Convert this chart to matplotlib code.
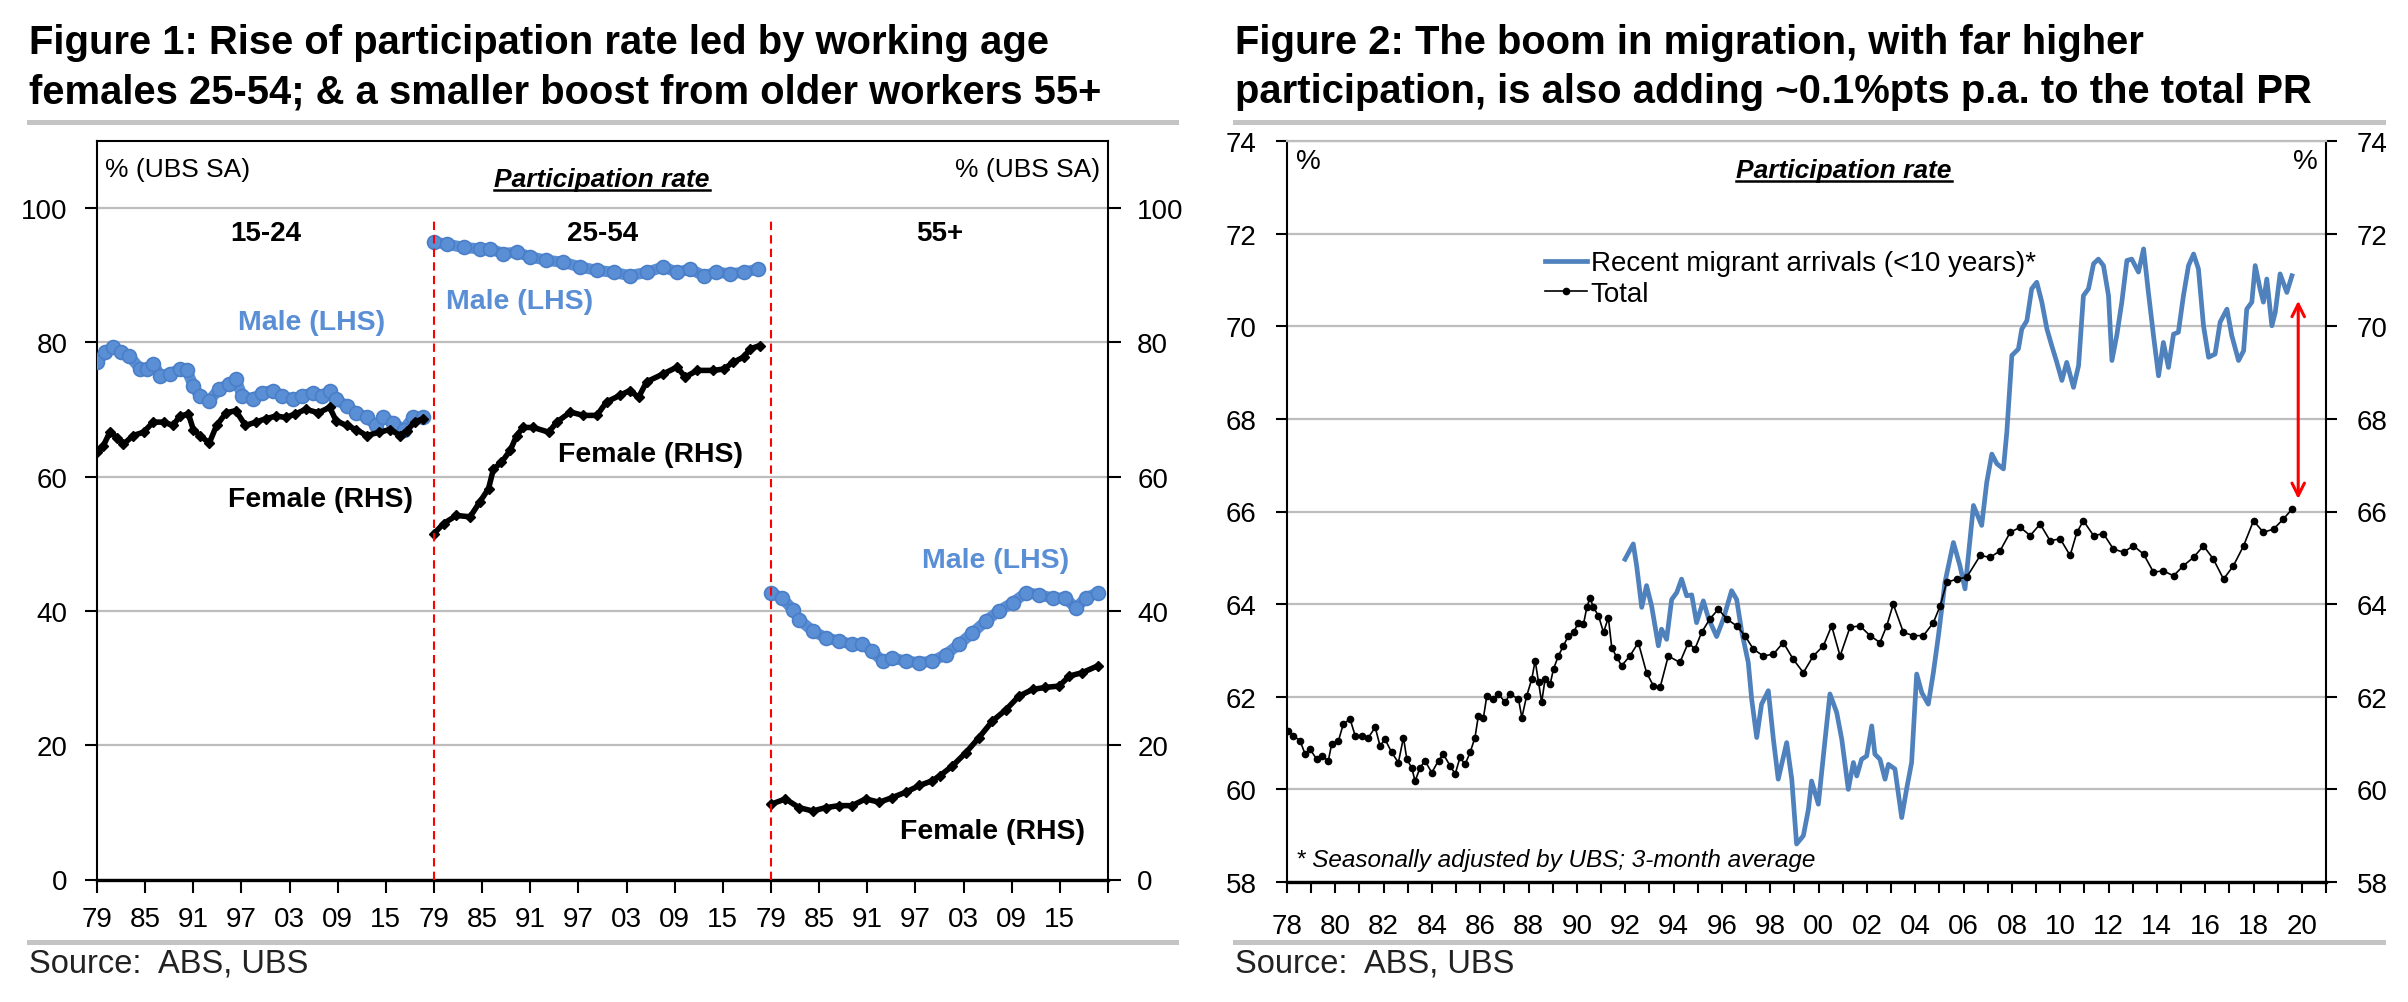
import matplotlib
matplotlib.use("Agg")
import matplotlib.pyplot as plt
from matplotlib.lines import Line2D
import numpy as np

NARROW = ['Liberation Sans Narrow', 'Liberation Sans', 'DejaVu Sans']
WIDE = ['Liberation Sans', 'DejaVu Sans']
plt.rcParams['font.family'] = NARROW

# ---------------- Figure 1 data (year, value) per age group ----------------
seg_labels = ['15-24', '25-54', '55+']
seg_tick_labels = ['79', '85', '91', '97', '03', '09', '15']

m1524_yr = [1979.0, 1980.0, 1981.0, 1982.0, 1983.0, 1984.4, 1985.2, 1986.0, 1986.9, 1988.1, 1989.3,
            1990.2, 1991.0, 1991.8, 1993.0, 1994.2, 1995.5, 1996.3, 1997.1, 1998.4, 1999.6, 2000.9,
            2002.1, 2003.4, 2004.6, 2005.9, 2007.1, 2008.0, 2008.8, 2010.1, 2011.3, 2012.6, 2013.8,
            2014.7, 2015.9, 2017.2, 2018.4, 2019.6]
m1524_val = [77.0, 78.5, 79.3, 78.5, 78.0, 76.0, 76.0, 76.8, 75.0, 75.3, 76.0,
             75.8, 73.5, 72.0, 71.3, 73.0, 73.8, 74.5, 72.0, 71.5, 72.5, 72.8,
             72.0, 71.5, 72.0, 72.5, 72.0, 72.8, 71.5, 70.5, 69.5, 68.8, 67.6,
             68.8, 68.0, 67.0, 68.8, 68.8]
f1524_yr = [1979.0, 1979.8, 1980.6, 1981.5, 1982.3, 1983.5, 1984.8, 1986.0, 1987.3, 1988.5, 1989.3,
            1990.4, 1991.0, 1991.8, 1993.0, 1993.9, 1995.1, 1996.3, 1997.5, 1998.8, 2000.0, 2001.3,
            2002.5, 2003.7, 2005.0, 2006.6, 2008.0, 2008.8, 2010.1, 2011.3, 2012.6, 2014.2, 2015.5,
            2016.8, 2017.6, 2018.6, 2019.6]
f1524_val = [63.6, 64.6, 66.6, 65.8, 64.8, 66.1, 66.6, 68.1, 68.1, 67.6, 69.0,
             69.3, 67.0, 66.1, 65.0, 67.6, 69.5, 69.8, 67.6, 68.1, 68.6, 69.0,
             68.8, 69.3, 70.0, 69.5, 70.3, 68.3, 67.6, 67.0, 66.1, 66.6, 67.0,
             66.1, 66.8, 68.1, 68.6]

m2554_yr = [1979.0, 1980.6, 1982.7, 1984.7, 1986.0, 1987.6, 1989.3, 1991.0, 1993.0, 1995.1, 1997.2,
            1999.3, 2001.4, 2003.4, 2005.5, 2007.6, 2009.3, 2010.9, 2012.6, 2014.2, 2015.9, 2017.6, 2019.4]
m2554_val = [94.9, 94.6, 94.1, 93.9, 93.9, 93.2, 93.4, 92.7, 92.2, 91.9, 91.2,
             90.7, 90.4, 89.9, 90.4, 91.2, 90.4, 90.9, 89.9, 90.4, 90.2, 90.4, 90.9]
f2554_yr = [1979.0, 1980.2, 1981.8, 1983.5, 1984.7, 1985.8, 1986.4, 1987.4, 1988.5, 1989.3, 1990.1,
            1991.4, 1993.3, 1994.3, 1996.0, 1997.6, 1999.3, 2000.5, 2002.2, 2003.4, 2004.5, 2005.5,
            2007.6, 2009.3, 2010.3, 2011.8, 2013.8, 2015.1, 2016.3, 2017.6, 2018.4, 2019.6]
f2554_val = [51.5, 53.0, 54.2, 54.0, 56.2, 58.2, 61.1, 62.1, 63.9, 66.1, 67.3,
             67.3, 66.6, 68.1, 69.6, 69.1, 69.1, 71.1, 72.1, 72.8, 71.8, 74.1,
             75.3, 76.3, 74.8, 75.8, 75.8, 76.0, 77.0, 77.8, 79.0, 79.5]

m55_yr = [1979.0, 1980.4, 1981.7, 1982.5, 1984.2, 1985.8, 1987.5, 1989.1, 1990.4, 1991.6, 1992.9,
          1994.1, 1995.8, 1997.5, 1999.1, 2000.8, 2002.4, 2004.1, 2005.8, 2007.4, 2009.1, 2010.8,
          2012.4, 2014.1, 2015.7, 2017.0, 2018.2, 2019.7]
m55_val = [42.7, 41.9, 40.2, 38.7, 37.0, 36.0, 35.5, 35.0, 35.0, 34.0, 32.5,
           33.0, 32.5, 32.3, 32.5, 33.5, 35.0, 36.7, 38.5, 40.0, 41.2, 42.7,
           42.4, 41.9, 41.9, 40.4, 41.9, 42.7]
f55_yr = [1979.0, 1980.8, 1982.5, 1984.2, 1985.8, 1987.5, 1989.1, 1990.8, 1992.5, 1994.1, 1995.8,
          1997.5, 1999.1, 2000.0, 2001.6, 2003.3, 2004.9, 2006.6, 2008.3, 2009.9, 2011.6, 2013.2,
          2014.9, 2016.2, 2017.8, 2019.7]
f55_val = [11.2, 12.0, 10.7, 10.2, 10.7, 11.0, 11.0, 12.0, 11.5, 12.2, 13.0,
           14.0, 14.7, 15.4, 16.9, 18.9, 21.1, 23.6, 25.3, 27.3, 28.3, 28.6,
           28.8, 30.3, 30.8, 31.8]

male_series = [(m1524_yr, m1524_val), (m2554_yr, m2554_val), (m55_yr, m55_val)]
female_series = [(f1524_yr, f1524_val), (f2554_yr, f2554_val), (f55_yr, f55_val)]

# ---------------- Figure 2 data ----------------
total_yr = [1978.06, 1978.26, 1978.54, 1978.75, 1978.95, 1979.23, 1979.44, 1979.71, 1979.85, 1980.13,
            1980.33, 1980.61, 1980.82, 1981.09, 1981.37, 1981.65, 1981.85, 1982.06, 1982.33, 1982.61,
            1982.82, 1982.96, 1983.16, 1983.30, 1983.51, 1983.71, 1983.99, 1984.27, 1984.47, 1984.75,
            1984.96, 1985.16, 1985.37, 1985.58, 1985.78, 1985.92, 1986.13, 1986.27, 1986.54, 1986.75,
            1987.03, 1987.23, 1987.58, 1987.72, 1987.92, 1988.13, 1988.27, 1988.41, 1988.54, 1988.68,
            1988.89, 1989.03, 1989.23, 1989.44, 1989.65, 1989.86, 1990.06, 1990.27, 1990.41, 1990.54,
            1990.68, 1990.89, 1991.10, 1991.30, 1991.44, 1991.65, 1991.85,
            1992.19, 1992.54, 1992.88, 1993.16, 1993.44, 1993.78, 1994.26, 1994.61, 1994.88, 1995.16,
            1995.50, 1995.85, 1996.20, 1996.61, 1996.95, 1997.30, 1997.71, 1998.13, 1998.54, 1998.95,
            1999.37, 1999.78, 2000.20, 2000.54, 2000.89, 2001.30, 2001.71, 2002.13, 2002.54, 2002.82,
            2003.09, 2003.51, 2003.92, 2004.34, 2004.75, 2005.03, 2005.30, 2005.72,
            2006.13, 2006.69, 2007.10, 2007.51, 2007.93, 2008.34, 2008.76, 2009.17, 2009.58, 2010.00,
            2010.41, 2010.69, 2010.96, 2011.38, 2011.79, 2012.20, 2012.62, 2013.03, 2013.45, 2013.86,
            2014.27, 2014.69, 2015.10, 2015.52, 2015.93, 2016.34, 2016.76, 2017.17, 2017.59, 2018.00,
            2018.41, 2018.83, 2019.24, 2019.59]
total_val = [61.26, 61.16, 61.05, 60.76, 60.87, 60.65, 60.72, 60.62, 60.98, 61.05,
             61.41, 61.52, 61.16, 61.16, 61.12, 61.34, 60.94, 61.08, 60.80, 60.58,
             61.12, 60.65, 60.47, 60.18, 60.47, 60.62, 60.36, 60.62, 60.76, 60.51,
             60.33, 60.69, 60.54, 60.80, 61.12, 61.59, 61.55, 62.02, 61.95, 62.06,
             61.88, 62.06, 61.95, 61.55, 62.02, 62.38, 62.78, 62.31, 61.88, 62.38,
             62.27, 62.60, 62.88, 63.10, 63.32, 63.39, 63.60, 63.57, 63.93, 64.14,
             63.93, 63.75, 63.39, 63.71, 63.06, 62.85, 62.67,
             62.88, 63.17, 62.52, 62.24, 62.20, 62.88, 62.74, 63.17, 63.03, 63.39,
             63.68, 63.89, 63.68, 63.53, 63.32, 63.03, 62.88, 62.92, 63.17, 62.81,
             62.52, 62.88, 63.10, 63.53, 62.88, 63.50, 63.53, 63.32, 63.17, 63.53,
             64.00, 63.39, 63.32, 63.32, 63.60, 63.96, 64.47, 64.54,
             64.58, 65.05, 65.01, 65.15, 65.55, 65.66, 65.48, 65.73, 65.37, 65.41,
             65.05, 65.55, 65.80, 65.48, 65.52, 65.19, 65.12, 65.26, 65.08, 64.69,
             64.72, 64.61, 64.83, 65.01, 65.26, 64.97, 64.54, 64.83, 65.26, 65.80,
             65.55, 65.62, 65.84, 66.05]

migr_yr = [1991.99, 1992.33, 1992.47, 1992.68, 1992.88, 1993.09, 1993.37, 1993.50, 1993.71, 1993.92,
           1994.13, 1994.33, 1994.54, 1994.75, 1994.95, 1995.23, 1995.44, 1995.78, 1996.06, 1996.40,
           1996.61, 1996.82, 1997.09, 1997.23, 1997.44, 1997.64, 1997.92, 1998.13, 1998.33, 1998.68,
           1998.89, 1999.09, 1999.37, 1999.58, 1999.71, 1999.99, 2000.27, 2000.47, 2000.75, 2000.96,
           2001.23, 2001.44, 2001.58, 2001.78, 2001.99, 2002.20, 2002.33, 2002.54, 2002.75, 2002.89,
           2003.16, 2003.44, 2003.64, 2003.85, 2004.06, 2004.27, 2004.54, 2004.75, 2004.96, 2005.23,
           2005.58, 2005.85,
           2006.06, 2006.41, 2006.75, 2006.96, 2007.17, 2007.38, 2007.65, 2007.79, 2008.00, 2008.27,
           2008.41, 2008.62, 2008.82, 2009.03, 2009.24, 2009.45, 2009.65, 2009.86, 2010.07, 2010.27,
           2010.55, 2010.76, 2010.96, 2011.17, 2011.38, 2011.58, 2011.79, 2012.00, 2012.14, 2012.34,
           2012.55, 2012.76, 2012.96, 2013.24, 2013.45, 2013.65, 2013.86, 2014.07, 2014.27, 2014.48,
           2014.69, 2014.89, 2015.10, 2015.31, 2015.52, 2015.72, 2015.93, 2016.14, 2016.41, 2016.62,
           2016.90, 2017.10, 2017.38, 2017.59, 2017.72, 2017.93, 2018.07, 2018.27, 2018.41, 2018.55,
           2018.76, 2018.90, 2019.10, 2019.38, 2019.59]
migr_val = [64.97, 65.30, 64.83, 63.93, 64.40, 63.96, 63.10, 63.46, 63.24, 64.10,
            64.25, 64.54, 64.18, 64.20, 63.60, 64.07, 63.70, 63.30, 63.68, 64.29,
            64.10, 63.40, 62.74, 61.95, 61.12, 61.84, 62.13, 61.08, 60.22, 61.01,
            60.22, 58.82, 59.00, 59.57, 60.18, 59.68, 61.08, 62.06, 61.66, 61.08,
            60.00, 60.58, 60.29, 60.65, 60.72, 61.37, 60.76, 60.65, 60.22, 60.54,
            60.44, 59.39, 60.00, 60.58, 62.49, 62.09, 61.84, 62.52, 63.32, 64.47,
            65.33, 64.83,
            64.33, 66.13, 65.70, 66.63, 67.24, 67.03, 66.92, 67.71, 69.37, 69.51,
            69.94, 70.12, 70.81, 70.95, 70.52, 69.94, 69.58, 69.22, 68.83, 69.22,
            68.68, 69.15, 70.66, 70.81, 71.35, 71.45, 71.31, 70.66, 69.26, 69.80,
            70.52, 71.42, 71.45, 71.17, 71.67, 70.73, 69.80, 68.93, 69.65, 69.11,
            69.83, 69.87, 70.66, 71.31, 71.56, 71.24, 70.01, 69.33, 69.40, 70.09,
            70.37, 69.80, 69.26, 69.47, 70.37, 70.52, 71.31, 70.81, 70.52, 71.02,
            70.01, 70.30, 71.13, 70.73, 71.09]

arrow_x = 2019.85
arrow_top, arrow_bottom = 70.55, 66.27

# ---------------- styling constants ----------------
W, H = 2408, 1003
BLUE1 = '#5a8fd6'
BLUE2 = '#4f81bd'
GRID = '#bdbdbd'
RULE = '#c4c4c4'
TICKFS = 20

fig = plt.figure(figsize=(W / 100, H / 100), dpi=100)

def px(x, y):
    return x / W, 1 - y / H

def add_rule(x0, x1, y):
    fx0, fy = px(x0, y)
    fx1, _ = px(x1, y)
    fig.add_artist(Line2D([fx0, fx1], [fy, fy], color=RULE, lw=3.6, transform=fig.transFigure))

# titles
for x0, lines in [(29, ["Figure 1: Rise of participation rate led by working age",
                        "females 25-54; & a smaller boost from older workers 55+"]),
                  (1235, ["Figure 2: The boom in migration, with far higher",
                          "participation, is also adding ~0.1%pts p.a. to the total PR"])]:
    for i, ln in enumerate(lines):
        fx, fy = px(x0, 54 + 49 * i)
        fig.text(fx, fy, ln, family=WIDE, weight='bold', fontsize=28.8, va='baseline', ha='left')

add_rule(29, 1176, 123)
add_rule(1235, 2383, 123)
add_rule(29, 1176, 943)
add_rule(1235, 2383, 943)
for x0 in (29, 1235):
    fx, fy = px(x0, 964)
    fig.text(fx, fy, "Source:  ABS, UBS", family=WIDE, fontsize=23.5, va='center', ha='left', color='#222222')

# ---------------- Figure 1 axes ----------------
l, b = px(97, 880.5)
ax1 = fig.add_axes([l, b, (1108 - 97) / W, 738.8 / H])
SEG = 42
for k in range(3):
    yr, val = male_series[k]
    xs = [SEG * k + (y - 1979) for y in yr]
    ax1.plot(xs, val, color=BLUE1, lw=8, marker='o', ms=10, mfc=BLUE1, mec='#4a7fc8', mew=1.2,
             solid_capstyle='round', solid_joinstyle='round', zorder=3)
    yr, val = female_series[k]
    xs = [SEG * k + (y - 1979) for y in yr]
    ax1.plot(xs, val, color='black', lw=4, marker='D', ms=5, solid_joinstyle='round', zorder=4)

ax1.vlines([SEG, 2 * SEG], 0, 98.2, colors='red', linestyles=(0, (4, 2.5)), lw=1.5, zorder=5)
ax1.set_xlim(0, 3 * SEG)
ax1.set_ylim(0, 110)
ax1.set_yticks(np.arange(0, 101, 20))
ax1.set_xticks(list(np.arange(0, 3 * SEG, 6)) + [3 * SEG])
ax1.set_xticklabels(seg_tick_labels * 3 + [''])
ax1.yaxis.grid(True, color=GRID, lw=1.6)
ax1.set_axisbelow(True)
ax1.tick_params(axis='both', direction='out', length=9, width=1.5, labelsize=TICKFS)
ax1.tick_params(axis='y', left=True, right=True, labelleft=True, labelright=True, pad=12)
ax1.tick_params(axis='x', pad=10)
for s in ax1.spines.values():
    s.set_linewidth(1.5)
ax1.spines['bottom'].set_linewidth(2.4)

for k, lab in enumerate(seg_labels):
    ax1.text(SEG * k + 21, 96.3, lab, family=WIDE, weight='bold', fontsize=20, ha='center', va='center')
male_lab_pos = [(26.8, 83.0), (52.7, 86.2), (112.0, 47.5)]
female_lab_pos = [(27.8, 56.7), (69.0, 63.4), (111.6, 7.2)]
for (x, y) in male_lab_pos:
    ax1.text(x, y, 'Male (LHS)', family=WIDE, weight='bold', fontsize=20.5, color=BLUE1, ha='center', va='center')
for (x, y) in female_lab_pos:
    ax1.text(x, y, 'Female (RHS)', family=WIDE, weight='bold', fontsize=20.5, color='black', ha='center', va='center')

fx, fy = px(105, 170)
fig.text(fx, fy, '% (UBS SA)', fontsize=19, ha='left', va='center')
fx, fy = px(1100, 170)
fig.text(fx, fy, '% (UBS SA)', fontsize=19, ha='right', va='center')

# ---------------- Figure 2 axes ----------------
l2, b2 = px(1287, 883)
ax2 = fig.add_axes([l2, b2, 1039 / W, 741 / H])
ax2.plot(migr_yr, migr_val, color=BLUE2, lw=3.4, label='Recent migrant arrivals (<10 years)*', zorder=3)
ax2.plot(total_yr, total_val, color='black', lw=1.2, marker='o', ms=4.5, label='Total', zorder=4)
ax2.annotate('', xy=(arrow_x, arrow_top), xytext=(arrow_x, arrow_bottom),
             arrowprops=dict(arrowstyle='<->,head_length=0.9,head_width=0.45', color='red', lw=2.2,
                             shrinkA=0, shrinkB=0))
ax2.set_xlim(1978, 2021)
ax2.set_ylim(58, 74)
ax2.set_yticks(np.arange(58, 75, 2))
ax2.set_xticks(np.arange(1978, 2021, 2))
ax2.set_xticklabels(['%02d' % (y % 100) for y in range(1978, 2021, 2)])
ax2.set_xticks(np.arange(1978, 2022, 1), minor=True)
ax2.yaxis.grid(True, color=GRID, lw=1.6)
ax2.set_axisbelow(True)
ax2.tick_params(axis='both', which='both', direction='out', length=8, width=1.5, labelsize=TICKFS)
ax2.tick_params(axis='y', left=True, right=True, labelleft=True, labelright=True, pad=14)
ax2.tick_params(axis='x', pad=14)
for s in ax2.spines.values():
    s.set_linewidth(1.5)
ax2.spines['top'].set_color(GRID)
ax2.spines['top'].set_linewidth(1.6)
ax2.spines['bottom'].set_linewidth(2.4)

leg = ax2.legend(loc='center left', bbox_to_anchor=((1545 - 1287) / 1039, (883 - 279.5) / 741),
                 frameon=False, fontsize=20, handlelength=1.5, handletextpad=0.15,
                 borderpad=0, borderaxespad=0, labelspacing=0.15)
ax2.text((1296 - 1287) / 1039, (883 - 861) / 741, '* Seasonally adjusted by UBS; 3-month average',
         transform=ax2.transAxes, fontsize=17.5, style='italic', ha='left', va='center')

fx, fy = px(1296, 162)
fig.text(fx, fy, '%', fontsize=20, ha='left', va='center')
fx, fy = px(2318, 162)
fig.text(fx, fy, '%', fontsize=20, ha='right', va='center')

# underlined italic headers
ptitles = []
for cx, cy in [(602, 180), (1844, 171)]:
    fx, fy = px(cx, cy)
    ptitles.append(fig.text(fx, fy, 'Participation rate', fontsize=19, weight='bold', style='italic',
                            ha='center', va='center'))
fig.canvas.draw()
r = fig.canvas.get_renderer()
for t in ptitles:
    bb = t.get_window_extent(r)
    yline = bb.y0 + 1
    fig.add_artist(Line2D([bb.x0 / W, bb.x1 / W], [yline / H, yline / H], color='black', lw=1.8,
                          transform=fig.transFigure))

fig.savefig('out.png', dpi=100)
